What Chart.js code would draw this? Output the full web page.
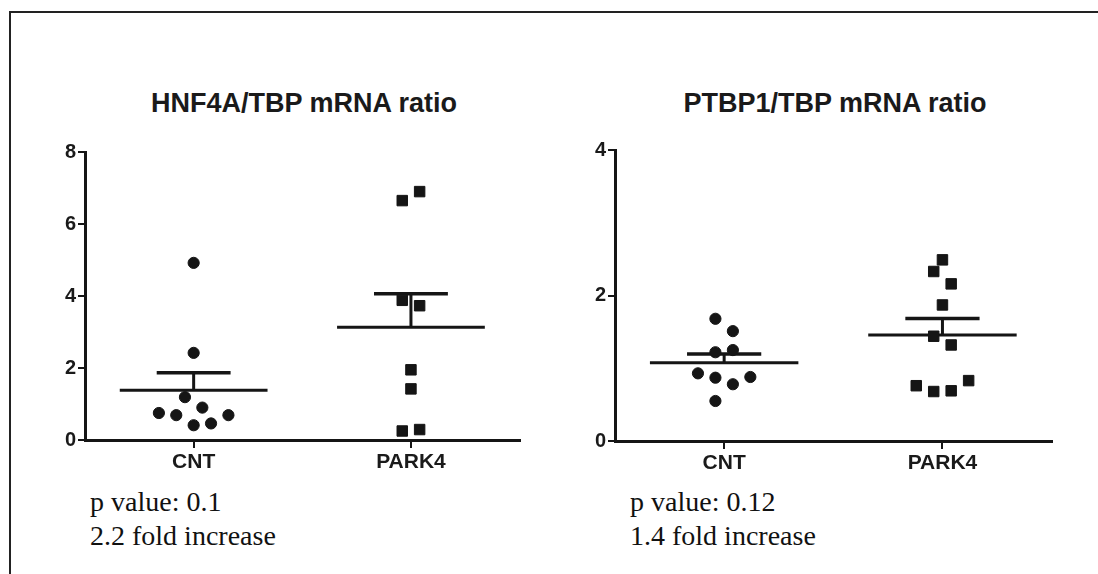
<!DOCTYPE html>
<html>
<head>
<meta charset="utf-8">
<script src="https://cdn.jsdelivr.net/npm/chart.js@4.4.1/dist/chart.umd.min.js"></script>
<style>
  html, body { margin: 0; padding: 0; background: #fff; }
  body { width: 1098px; height: 574px; position: relative; overflow: hidden; }
  #frame { position: absolute; left: 9px; top: 11px; width: 1200px; height: 700px;
           border-top: 2px solid #222; border-left: 2px solid #222; }
  .title { position: absolute; top: 90px; width: 440px; text-align: center;
           font: bold 27px "Liberation Sans", Arial, sans-serif; line-height: 27px; color: #1a1a1a; }
  .note { position: absolute; top: 485px; font: 28px "Liberation Serif", "Times New Roman", serif;
          line-height: 34px; color: #111; }
  .panel { position: absolute; }
</style>
</head>
<body>
<div id="frame"></div>

<div class="title" style="left:84px">HNF4A/TBP mRNA ratio</div>
<div class="title" style="left:615px">PTBP1/TBP mRNA ratio</div>

<div class="panel" style="left:45px; top:138px; width:483px; height:342px"><canvas id="hnf"></canvas></div>
<div class="panel" style="left:575px; top:136px; width:485px; height:345px"><canvas id="ptb"></canvas></div>

<div class="note" style="left:90px">p value: 0.1<br>2.2 fold increase</div>
<div class="note" style="left:630px">p value: 0.12<br>1.4 fold increase</div>

<script>
// ---- data ----
const categories = ["CNT", "PARK4"];

// HNF4A/TBP
const hnfCnt   = [4.92, 2.42, 1.19, 0.90, 0.75, 0.69, 0.69, 0.41, 0.46];
const hnfPark4 = [6.65, 6.90, 3.88, 3.73, 1.95, 1.42, 0.25, 0.29];
// PTBP1/TBP
const ptbCnt   = [1.68, 1.51, 1.22, 1.25, 0.93, 0.87, 0.88, 0.78, 0.55];
const ptbPark4 = [2.49, 2.33, 2.16, 1.87, 1.44, 1.32, 0.76, 0.68, 0.69, 0.83];

// side-by-side spread of the dots inside a column (category units)
const hnfCntSpread   = [0, 0, -0.04, 0.04, -0.16, -0.08, 0.16, 0, 0.08];
const hnfPark4Spread = [-0.04, 0.04, -0.04, 0.04, 0, 0, -0.04, 0.04];
const ptbCntSpread   = [-0.04, 0.04, -0.04, 0.04, -0.12, -0.04, 0.12, 0.04, -0.04];
const ptbPark4Spread = [0, -0.04, 0.04, 0, -0.04, 0.04, -0.12, -0.04, 0.04, 0.12];

const hnfTicks = [0, 2, 4, 6, 8];
const ptbTicks = [0, 2, 4];

// ---- helpers ----
const INK = "#151515";
const tickFont = { family: "'Liberation Sans', Arial, sans-serif", weight: "bold" };

function mean(arr) {
  return arr.reduce((a, b) => a + b, 0) / arr.length;
}

function sem(arr) {
  const m = mean(arr);
  const ss = arr.reduce((a, b) => a + (b - m) * (b - m), 0);
  return Math.sqrt(ss / (arr.length - 1)) / Math.sqrt(arr.length);
}

function segment(points, width) {
  return {
    data: points,
    showLine: true,
    borderColor: INK,
    borderWidth: width,
    pointRadius: 0,
    fill: false
  };
}

function groupSets(vals, spread, col, style) {
  const m = mean(vals);
  const top = m + sem(vals);
  const dots = {
    data: vals.map((v, i) => ({ x: col + spread[i], y: v })),
    pointStyle: style,
    pointRadius: style === "rect" ? 7.4 : 5.6,
    pointBackgroundColor: INK,
    pointBorderColor: INK,
    pointBorderWidth: 1,
    showLine: false
  };
  return [
    dots,
    segment([{ x: col - 0.34, y: m }, { x: col + 0.34, y: m }], 3),
    segment([{ x: col - 0.17, y: top }, { x: col + 0.17, y: top }], 3.5),
    segment([{ x: col, y: m }, { x: col, y: top }], 3)
  ];
}

function makePanel(id, cnt, cntSpread, park, parkSpread, yTicks) {
  new Chart(document.getElementById(id), {
    type: "scatter",
    data: {
      datasets: [
        ...groupSets(cnt, cntSpread, 0, "circle"),
        ...groupSets(park, parkSpread, 1, "rect")
      ]
    },
    options: {
      responsive: true,
      maintainAspectRatio: false,
      animation: false,
      clip: false,
      layout: { padding: { top: 10, right: 5, left: 0, bottom: 0 } },
      plugins: { legend: { display: false }, tooltip: { enabled: false } },
      scales: {
        x: {
          type: "linear",
          min: -0.5,
          max: 1.5,
          afterFit: (s) => { s.height = 40; },
          afterBuildTicks: (s) => { s.ticks = categories.map((c, i) => ({ value: i })); },
          ticks: {
            callback: (v) => categories[v],
            color: "#1a1a1a",
            font: { ...tickFont, size: 21 },
            padding: 2,
            maxRotation: 0
          },
          grid: { drawOnChartArea: false, drawTicks: true, tickLength: 8, color: INK, lineWidth: 2 },
          border: { color: INK, width: 3 }
        },
        y: {
          min: yTicks[0],
          max: yTicks[yTicks.length - 1],
          afterFit: (s) => { s.width = 40; },
          afterBuildTicks: (s) => { s.ticks = yTicks.map((v) => ({ value: v })); },
          ticks: {
            color: "#1a1a1a",
            font: { ...tickFont, size: 20 },
            padding: 2
          },
          grid: { drawOnChartArea: false, drawTicks: true, tickLength: 7, color: INK, lineWidth: 2 },
          border: { color: INK, width: 3 }
        }
      }
    }
  });
}

makePanel("hnf", hnfCnt, hnfCntSpread, hnfPark4, hnfPark4Spread, hnfTicks);
makePanel("ptb", ptbCnt, ptbCntSpread, ptbPark4, ptbPark4Spread, ptbTicks);
</script>
</body>
</html>
